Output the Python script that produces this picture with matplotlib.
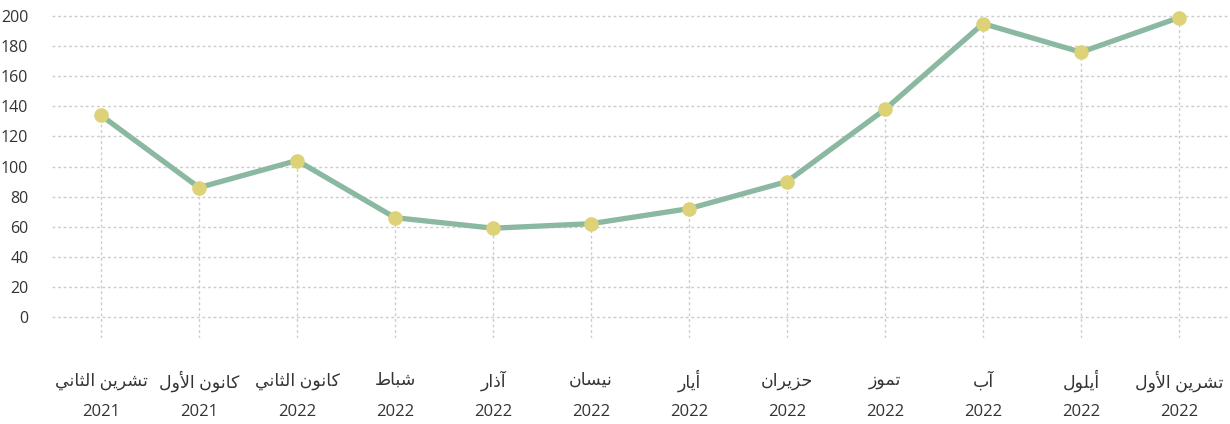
import matplotlib
matplotlib.use('Agg')
import matplotlib.pyplot as plt
from matplotlib.transforms import blended_transform_factory

months = ['تشرين الثاني', 'كانون الأول', 'كانون الثاني', 'شباط', 'آذار', 'نيسان',
          'أيار', 'حزيران', 'تموز', 'آب', 'أيلول', 'تشرين الأول']
years = ['2021', '2021', '2022', '2022', '2022', '2022',
         '2022', '2022', '2022', '2022', '2022', '2022']
values = [134, 86, 104, 66, 59, 62, 72, 90, 138, 195, 176, 199]
yticks = [0, 20, 40, 60, 80, 100, 120, 140, 160, 180, 200]

# matplotlib has no arabic shaping, so pick presentation forms by hand
ISO = {'ا': 0xFE8D, 'أ': 0xFE83, 'آ': 0xFE81, 'ب': 0xFE8F, 'ت': 0xFE95, 'ث': 0xFE99,
       'ح': 0xFEA1, 'ذ': 0xFEAB, 'ر': 0xFEAD, 'ز': 0xFEAF, 'س': 0xFEB1, 'ش': 0xFEB5,
       'ط': 0xFEC1, 'ك': 0xFED9, 'ل': 0xFEDD, 'م': 0xFEE1, 'ن': 0xFEE5, 'و': 0xFEED,
       'ي': 0xFEF1}
RIGHT_ONLY = set('اأآدذرزو')
LAM_ALEF = {'ا': 0xFEFB, 'أ': 0xFEF7, 'آ': 0xFEF5}


def shape_word(w):
    out = []
    prev = False
    i = 0
    while i < len(w):
        c = w[i]
        if c == 'ل' and i + 1 < len(w) and w[i + 1] in LAM_ALEF:
            out.append(chr(LAM_ALEF[w[i + 1]] + (1 if prev else 0)))
            prev = False
            i += 2
            continue
        base = ISO[c]
        nxt = i + 1 < len(w)
        if c in RIGHT_ONLY:
            code = base + (1 if prev else 0)
            prev = False
        else:
            if prev and nxt:
                code = base + 3
            elif prev:
                code = base + 1
            elif nxt:
                code = base + 2
            else:
                code = base
            prev = nxt
        out.append(chr(code))
        i += 1
    return ''.join(reversed(out))


def shape(text):
    return ' '.join(shape_word(w) for w in reversed(text.split()))


plt.rcParams['font.family'] = ['Open Sans', 'DejaVu Sans']

fig = plt.figure(figsize=(12.3, 4.24), dpi=100)
ax = fig.add_axes([0.0423, 0.2028, 0.9577, 0.777])

x = list(range(len(values)))
ax.vlines(x, -14, values, colors='#cccccc', linestyles=(0, (2, 2)), linewidth=1, zorder=1)
for v in yticks:
    ax.axhline(v, color='#cccccc', linestyle=(0, (2, 2)), linewidth=1, zorder=1)

ax.plot(x, values, color='#8ab8a0', linewidth=3.8, zorder=2, solid_capstyle='round')
ax.plot(x, values, linestyle='none', marker='o', markersize=9.5, color='#ddd278', zorder=3)

ax.set_xlim(-0.5, 11.52)
ax.set_ylim(-14, 205)
ax.set_yticks(yticks)
ax.set_yticklabels([str(v) for v in yticks], fontsize=11.5, color='#333333')
ax.set_xticks(x)
ax.set_xticklabels([])
ax.tick_params(axis='both', length=0)
ax.tick_params(axis='y', pad=17)
for s in ax.spines.values():
    s.set_visible(False)

tr = blended_transform_factory(ax.transData, fig.transFigure)
for xi, m, y in zip(x, months, years):
    ax.text(xi, 1 - 381 / 424, shape(m), transform=tr, ha='center', va='center',
            fontsize=12.5, color='#333333')
    ax.text(xi, 1 - 412 / 424, y, transform=tr, ha='center', va='center',
            fontsize=12, color='#333333')

fig.savefig('out.png', dpi=100)
